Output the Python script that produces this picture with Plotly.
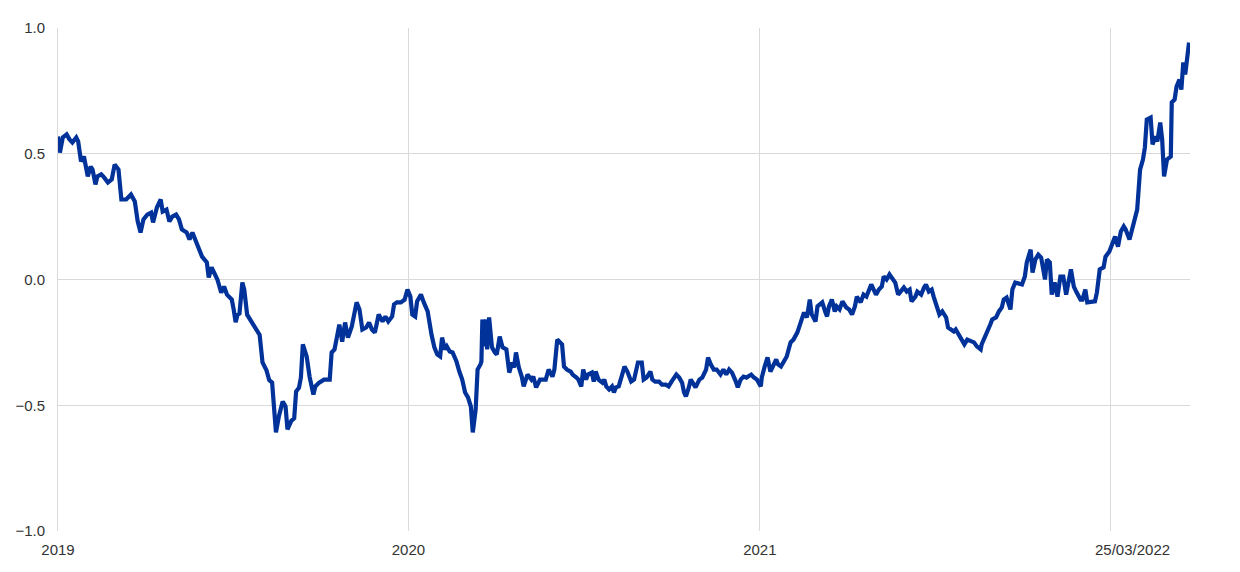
import pandas as pd
import plotly.graph_objects as go

# Days elapsed since 2019-01-01 and the plotted index values
day_offsets = [0, 2, 5, 9, 12, 15, 19, 21, 24, 27, 31, 34, 36, 39, 41, 45, 48, 52, 56, 59,
               63, 66, 71, 76, 80, 83, 86, 89, 93, 97, 99, 103, 107, 109, 113, 116, 119, 123, 126, 129,
               134, 137, 140, 144, 147, 150, 155, 157, 160, 164, 166, 170, 173, 176, 181, 183, 185, 187, 189, 192,
               194, 197, 201, 204, 207, 210, 213, 217, 220, 223, 227, 230, 234, 237, 239, 243, 246, 248, 251, 253,
               255, 259, 262, 266, 268, 272, 277, 283, 285, 288, 290, 293, 296, 299, 302, 306, 311, 314, 317, 321,
               324, 327, 330, 334, 338, 341, 344, 348, 350, 353, 357, 361, 364, 367, 369, 372, 374, 378, 381, 385,
               389, 392, 395, 398, 400, 403, 405, 408, 411, 415, 418, 421, 424, 427, 430, 432, 435, 437, 440, 441,
               442, 444, 446, 447, 449, 452, 455, 457, 460, 463, 467, 470, 473, 475, 477, 480, 483, 485, 489, 493,
               495, 498, 502, 505, 508, 511, 515, 517, 520, 523, 525, 527, 530, 534, 536, 540, 542, 545, 547, 550,
               552, 556, 558, 560, 563, 567, 569, 571, 574, 577, 579, 581, 584, 587, 590, 593, 597, 600, 604, 608,
               610, 613, 617, 619, 622, 626, 629, 633, 636, 639, 644, 647, 650, 652, 654, 657, 659, 661, 664, 668,
               671, 675, 677, 680, 683, 686, 690, 693, 696, 699, 702, 706, 708, 711, 714, 717, 722, 725, 728, 732,
               733, 736, 739, 742, 745, 748, 750, 753, 756, 759, 763, 766, 770, 774, 777, 780, 783, 785, 789, 791,
               796, 799, 801, 803, 806, 809, 811, 814, 817, 821, 824, 827, 830, 832, 836, 839, 842, 847, 849, 852,
               855, 858, 860, 863, 866, 868, 872, 875, 878, 881, 884, 887, 889, 893, 895, 899, 902, 904, 907, 910,
               912, 915, 918, 921, 925, 927, 931, 933, 935, 938, 941, 944, 947, 951, 954, 957, 961, 962, 966, 968,
               971, 973, 977, 980, 983, 985, 988, 992, 994, 997, 1001, 1004, 1007, 1009, 1013, 1015, 1018, 1021, 1024, 1028,
               1030, 1033, 1035, 1038, 1041, 1044, 1047, 1050, 1055, 1058, 1061, 1065, 1067, 1070, 1072, 1077, 1080, 1082, 1085, 1089,
               1091, 1095, 1098, 1101, 1104, 1107, 1110, 1112, 1116, 1119, 1122, 1124, 1127, 1130, 1132, 1134, 1138, 1140, 1143, 1145,
               1148, 1150, 1152, 1155, 1159, 1160, 1163, 1165, 1168, 1170, 1172, 1174, 1178]

values = [0.569, 0.505, 0.565, 0.577, 0.557, 0.545, 0.565, 0.549, 0.469, 0.489, 0.41, 0.449, 0.437, 0.378, 0.41, 0.418, 0.406, 0.386, 0.398, 0.457,
          0.437, 0.318, 0.318, 0.338, 0.31, 0.231, 0.187, 0.239, 0.258, 0.266, 0.227, 0.286, 0.318, 0.27, 0.278, 0.231, 0.25, 0.258, 0.239, 0.199,
          0.187, 0.159, 0.187, 0.151, 0.119, 0.091, 0.068, 0.008, 0.048, 0.012, 0.0, -0.052, -0.028, -0.06, -0.08, -0.12, -0.17, -0.14, -0.135, -0.012,
          -0.04, -0.14, -0.165, -0.18, -0.205, -0.22, -0.33, -0.36, -0.40, -0.41, -0.608, -0.545, -0.485, -0.505, -0.596, -0.562, -0.552, -0.445, -0.43, -0.39,
          -0.258, -0.306, -0.386, -0.457, -0.425, -0.41, -0.398, -0.398, -0.29, -0.278, -0.239, -0.179, -0.247, -0.171, -0.231, -0.187, -0.091, -0.119, -0.199, -0.191,
          -0.171, -0.199, -0.211, -0.139, -0.167, -0.147, -0.167, -0.147, -0.099, -0.091, -0.091, -0.08, -0.04, -0.068, -0.139, -0.147, -0.087, -0.06, -0.091, -0.127,
          -0.219, -0.27, -0.298, -0.306, -0.231, -0.278, -0.266, -0.286, -0.29, -0.326, -0.366, -0.398, -0.449, -0.469, -0.505, -0.608, -0.517, -0.358, -0.338, -0.326,
          -0.159, -0.266, -0.159, -0.278, -0.151, -0.27, -0.29, -0.298, -0.227, -0.27, -0.278, -0.37, -0.33, -0.35, -0.29, -0.35, -0.386, -0.425, -0.378, -0.398,
          -0.386, -0.429, -0.398, -0.398, -0.398, -0.358, -0.386, -0.358, -0.239, -0.25, -0.258, -0.346, -0.358, -0.366, -0.378, -0.39, -0.398, -0.425, -0.358, -0.398,
          -0.378, -0.37, -0.406, -0.366, -0.398, -0.41, -0.398, -0.425, -0.437, -0.425, -0.449, -0.429, -0.425, -0.386, -0.346, -0.366, -0.406, -0.398, -0.33, -0.33,
          -0.398, -0.39, -0.366, -0.398, -0.406, -0.406, -0.418, -0.418, -0.425, -0.406, -0.378, -0.39, -0.41, -0.449, -0.465, -0.429, -0.398, -0.41, -0.429, -0.398,
          -0.39, -0.358, -0.31, -0.338, -0.358, -0.358, -0.378, -0.358, -0.378, -0.358, -0.37, -0.406, -0.429, -0.398, -0.386, -0.39, -0.378, -0.39, -0.398, -0.425,
          -0.39, -0.346, -0.31, -0.366, -0.338, -0.318, -0.338, -0.346, -0.326, -0.306, -0.25, -0.239, -0.211, -0.159, -0.131, -0.151, -0.08, -0.139, -0.167, -0.107,
          -0.091, -0.127, -0.147, -0.107, -0.08, -0.127, -0.107, -0.119, -0.087, -0.111, -0.119, -0.139, -0.107, -0.068, -0.091, -0.06, -0.068, -0.02, -0.04, -0.06,
          -0.04, -0.028, 0.012, 0.0, 0.02, 0.008, -0.012, -0.06, -0.048, -0.032, -0.048, -0.04, -0.087, -0.068, -0.048, -0.06, -0.032, -0.02, -0.048, -0.04,
          -0.068, -0.107, -0.139, -0.127, -0.151, -0.191, -0.199, -0.207, -0.199, -0.219, -0.239, -0.258, -0.239, -0.247, -0.25, -0.266, -0.278, -0.258, -0.227, -0.211,
          -0.179, -0.159, -0.151, -0.127, -0.111, -0.08, -0.072, -0.119, -0.04, -0.012, -0.015, -0.02, 0.012, 0.068, 0.119, 0.028, 0.08, 0.099, 0.087, 0.0,
          0.08, 0.068, -0.06, -0.012, -0.068, 0.012, 0.012, -0.06, 0.04, -0.028, -0.052, -0.08, -0.08, -0.04, -0.091, -0.091, -0.087, -0.052, 0.04, 0.048,
          0.091, 0.111, 0.147, 0.171, 0.131, 0.191, 0.211, 0.199, 0.159, 0.199, 0.239, 0.278, 0.437, 0.477, 0.525, 0.636, 0.644, 0.537, 0.569, 0.549,
          0.624, 0.557, 0.41, 0.477, 0.489, 0.704, 0.716, 0.767, 0.795, 0.755, 0.863, 0.815, 0.942]

start_date = "2019-01-01"
end_date = "2022-03-25"
tick_dates = ["2019-01-01", "2020-01-01", "2021-01-01", "2022-01-01"]
tick_labels = ["2019", "2020", "2021", ""]
last_label = "25/03/2022"
y_ticks = [-1.0, -0.5, 0.0, 0.5, 1.0]

dates = pd.Timestamp(start_date) + pd.to_timedelta(day_offsets, unit="D")

fig = go.Figure()
fig.add_trace(go.Scatter(x=dates, y=values, mode="lines",
                         line=dict(color="#003299", width=4.2), showlegend=False,
                         hoverinfo="skip"))

font = dict(family="Liberation Sans, Arial, sans-serif", size=15, color="#333333")

# the page body has an 8px margin, so the figure is sized to fit inside the window
fig.update_layout(
    width=1232, height=564,
    margin=dict(l=50, r=50, t=20, b=41, autoexpand=False),
    paper_bgcolor="white", plot_bgcolor="white",
    font=font,
    xaxis=dict(range=[start_date, end_date], tickvals=tick_dates, ticktext=tick_labels,
               showgrid=True, gridcolor="#d9d9d9", gridwidth=1,
               showline=False, zeroline=False, ticks="", tickfont=font,
               ticklabelstandoff=8, automargin=False),
    yaxis=dict(range=[-1.0, 1.0], tickvals=y_ticks, tickformat=".1f",
               showgrid=True, gridcolor="#d9d9d9", gridwidth=1,
               showline=True, linecolor="#d9d9d9", linewidth=1,
               zeroline=False, ticks="", tickfont=font, ticklabelstandoff=9,
               automargin=False),
)

fig.add_annotation(x="2022-01-24", y=0, xref="x", yref="paper", text=last_label,
                   showarrow=False, yanchor="top", yshift=-8, font=font)

fig.write_html("out.html")
